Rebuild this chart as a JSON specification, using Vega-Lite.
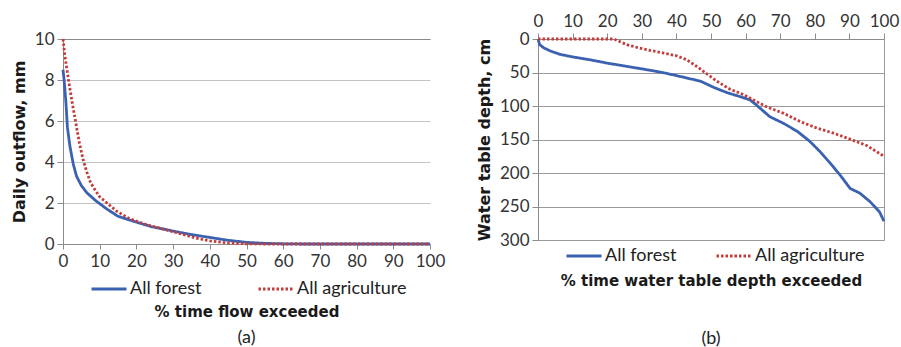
{
  "$schema": "https://vega.github.io/schema/vega-lite/v6.json",
  "background": "white",
  "padding": {"left": 11, "top": 11, "right": 10, "bottom": 0},
  "bounds": "flush",
  "spacing": 108,
  "datasets": {
    "flow": [
      {"s": "All forest", "x": 0, "y": 8.5},
      {"s": "All forest", "x": 0.3, "y": 8.0},
      {"s": "All forest", "x": 0.8, "y": 6.9},
      {"s": "All forest", "x": 1.2, "y": 5.7},
      {"s": "All forest", "x": 1.9, "y": 4.75},
      {"s": "All forest", "x": 2.8, "y": 3.9},
      {"s": "All forest", "x": 3.7, "y": 3.3},
      {"s": "All forest", "x": 5, "y": 2.85},
      {"s": "All forest", "x": 6.5, "y": 2.5},
      {"s": "All forest", "x": 9, "y": 2.1},
      {"s": "All forest", "x": 12, "y": 1.7},
      {"s": "All forest", "x": 15, "y": 1.35},
      {"s": "All forest", "x": 19, "y": 1.12},
      {"s": "All forest", "x": 24, "y": 0.85},
      {"s": "All forest", "x": 30, "y": 0.63},
      {"s": "All forest", "x": 35, "y": 0.46},
      {"s": "All forest", "x": 40, "y": 0.32},
      {"s": "All forest", "x": 45, "y": 0.18},
      {"s": "All forest", "x": 50, "y": 0.08},
      {"s": "All forest", "x": 55, "y": 0.03},
      {"s": "All forest", "x": 60, "y": 0.01},
      {"s": "All forest", "x": 65, "y": 0},
      {"s": "All forest", "x": 100, "y": 0},
      {"s": "All agriculture", "x": 0, "y": 10},
      {"s": "All agriculture", "x": 0.5, "y": 9.2},
      {"s": "All agriculture", "x": 1, "y": 8.6},
      {"s": "All agriculture", "x": 1.5, "y": 8.0},
      {"s": "All agriculture", "x": 2.5, "y": 6.9},
      {"s": "All agriculture", "x": 3.5, "y": 5.9},
      {"s": "All agriculture", "x": 4.5, "y": 4.9},
      {"s": "All agriculture", "x": 5.5, "y": 4.1},
      {"s": "All agriculture", "x": 6.5, "y": 3.5},
      {"s": "All agriculture", "x": 7.5, "y": 3.0},
      {"s": "All agriculture", "x": 8.5, "y": 2.7},
      {"s": "All agriculture", "x": 10, "y": 2.3},
      {"s": "All agriculture", "x": 12, "y": 2.0},
      {"s": "All agriculture", "x": 14.6, "y": 1.6},
      {"s": "All agriculture", "x": 18, "y": 1.25},
      {"s": "All agriculture", "x": 21, "y": 1.05},
      {"s": "All agriculture", "x": 24, "y": 0.88},
      {"s": "All agriculture", "x": 28, "y": 0.7},
      {"s": "All agriculture", "x": 32, "y": 0.5},
      {"s": "All agriculture", "x": 36, "y": 0.3},
      {"s": "All agriculture", "x": 40, "y": 0.15},
      {"s": "All agriculture", "x": 45, "y": 0.05},
      {"s": "All agriculture", "x": 50, "y": 0.01},
      {"s": "All agriculture", "x": 55, "y": 0},
      {"s": "All agriculture", "x": 100, "y": 0}
    ],
    "wt": [
      {"s": "All forest", "x": 0, "y": 0},
      {"s": "All forest", "x": 0.5, "y": 8.5},
      {"s": "All forest", "x": 1.6, "y": 13},
      {"s": "All forest", "x": 3.6, "y": 18},
      {"s": "All forest", "x": 6.4, "y": 23},
      {"s": "All forest", "x": 10.3, "y": 27},
      {"s": "All forest", "x": 15, "y": 31},
      {"s": "All forest", "x": 20, "y": 36},
      {"s": "All forest", "x": 24.7, "y": 40},
      {"s": "All forest", "x": 30.5, "y": 45},
      {"s": "All forest", "x": 36, "y": 50},
      {"s": "All forest", "x": 42, "y": 57},
      {"s": "All forest", "x": 47, "y": 63},
      {"s": "All forest", "x": 50.7, "y": 72},
      {"s": "All forest", "x": 54.6, "y": 80},
      {"s": "All forest", "x": 58.4, "y": 86},
      {"s": "All forest", "x": 61.3, "y": 91},
      {"s": "All forest", "x": 63, "y": 98},
      {"s": "All forest", "x": 67, "y": 116},
      {"s": "All forest", "x": 71, "y": 126},
      {"s": "All forest", "x": 75, "y": 138},
      {"s": "All forest", "x": 78.6, "y": 153},
      {"s": "All forest", "x": 81.5, "y": 168},
      {"s": "All forest", "x": 84.4, "y": 185},
      {"s": "All forest", "x": 87.3, "y": 203},
      {"s": "All forest", "x": 90.2, "y": 223},
      {"s": "All forest", "x": 93, "y": 230},
      {"s": "All forest", "x": 96, "y": 243},
      {"s": "All forest", "x": 98.7, "y": 258},
      {"s": "All forest", "x": 100, "y": 272},
      {"s": "All agriculture", "x": 0, "y": 0},
      {"s": "All agriculture", "x": 22, "y": 0},
      {"s": "All agriculture", "x": 22.8, "y": 2},
      {"s": "All agriculture", "x": 25.7, "y": 8.5},
      {"s": "All agriculture", "x": 28.6, "y": 12.5},
      {"s": "All agriculture", "x": 32.4, "y": 17},
      {"s": "All agriculture", "x": 36.3, "y": 21},
      {"s": "All agriculture", "x": 40, "y": 25},
      {"s": "All agriculture", "x": 43, "y": 31},
      {"s": "All agriculture", "x": 45.9, "y": 41},
      {"s": "All agriculture", "x": 48.8, "y": 52},
      {"s": "All agriculture", "x": 51.7, "y": 63},
      {"s": "All agriculture", "x": 55.5, "y": 75},
      {"s": "All agriculture", "x": 59.4, "y": 83},
      {"s": "All agriculture", "x": 62.3, "y": 91},
      {"s": "All agriculture", "x": 66, "y": 101},
      {"s": "All agriculture", "x": 71, "y": 111},
      {"s": "All agriculture", "x": 75.7, "y": 123},
      {"s": "All agriculture", "x": 80.6, "y": 133},
      {"s": "All agriculture", "x": 85.4, "y": 140.5},
      {"s": "All agriculture", "x": 90.2, "y": 149.5},
      {"s": "All agriculture", "x": 95, "y": 159},
      {"s": "All agriculture", "x": 100, "y": 175}
    ]
  },
  "hconcat": [
    {
      "width": 367,
      "height": 205,
      "data": {"name": "flow"},
      "title": {"text": "(a)", "orient": "bottom", "anchor": "middle", "font": "Lato", "fontSize": 18, "fontWeight": "normal", "color": "#222222", "offset": 10},
      "mark": {"type": "line", "strokeWidth": 2.8, "strokeCap": "butt"},
      "encoding": {
        "x": {"field": "x", "type": "quantitative", "scale": {"domain": [0, 100], "nice": false},
          "axis": {"title": "% time flow exceeded", "values": [0, 10, 20, 30, 40, 50, 60, 70, 80, 90, 100], "grid": false, "tickSize": 5, "labelPadding": 4, "titlePadding": 35, "labelFlush": false}},
        "y": {"field": "y", "type": "quantitative", "scale": {"domain": [0, 10], "nice": false},
          "axis": {"title": "Daily outflow, mm", "values": [0, 2, 4, 6, 8, 10], "grid": true, "gridColor": {"condition": {"test": "datum.value === 10", "value": "#8a8a8a"}, "value": "#c4c4c4"}, "tickSize": 6, "labelPadding": 3, "titlePadding": 7, "titleFontSize": 16}},
        "color": {"field": "s", "type": "nominal", "scale": {"domain": ["All forest", "All agriculture"], "range": ["#3b62b0", "#c43c3c"]},
          "legend": {"title": null, "orient": "none", "legendX": 27, "legendY": 231, "direction": "horizontal", "columnPadding": 50, "symbolType": "stroke", "symbolSize": 1225, "symbolStrokeWidth": 3, "labelOffset": 2, "labelFont": "Lato", "labelFontSize": 18, "labelColor": "#222222"}},
        "strokeDash": {"field": "s", "type": "nominal", "scale": {"domain": ["All forest", "All agriculture"], "range": [[1, 0], [2.5, 2]]},
          "legend": {"title": null, "orient": "none", "legendX": 27, "legendY": 231, "direction": "horizontal", "columnPadding": 50, "symbolType": "stroke", "symbolSize": 1225, "symbolStrokeWidth": 3, "labelOffset": 2, "labelFont": "Lato", "labelFontSize": 18, "labelColor": "#222222"}}
      }
    },
    {
      "width": 346,
      "height": 201,
      "data": {"name": "wt"},
      "view": {"stroke": "#9a9a9a"},
      "title": {"text": "(b)", "orient": "bottom", "anchor": "middle", "font": "Lato", "fontSize": 18, "fontWeight": "normal", "color": "#222222", "offset": 42},
      "layer": [
        {
          "mark": {"type": "line", "strokeWidth": 2.8, "strokeCap": "butt"},
          "encoding": {
            "x": {"field": "x", "type": "quantitative", "scale": {"domain": [0, 100], "nice": false},
              "axis": {"orient": "top", "title": null, "values": [0, 10, 20, 30, 40, 50, 60, 70, 80, 90, 100], "grid": false, "tickSize": 6, "labelPadding": 3, "labelFlush": false}},
            "y": {"field": "y", "type": "quantitative", "scale": {"domain": [0, 300], "nice": false, "reverse": true},
              "axis": {"title": "Water table depth, cm", "values": [0, 50, 100, 150, 200, 250, 300], "grid": true, "gridColor": "#9a9a9a", "tickSize": 6, "labelPadding": 3, "titlePadding": 7, "titleFontSize": 16}},
            "color": {"field": "s", "type": "nominal", "scale": {"domain": ["All forest", "All agriculture"], "range": ["#3b62b0", "#c43c3c"]},
              "legend": {"title": null, "orient": "none", "legendX": 27, "legendY": 198, "direction": "horizontal", "columnPadding": 33, "symbolType": "stroke", "symbolSize": 1225, "symbolStrokeWidth": 3, "labelOffset": 2, "labelFont": "Lato", "labelFontSize": 18, "labelColor": "#222222"}},
            "strokeDash": {"field": "s", "type": "nominal", "scale": {"domain": ["All forest", "All agriculture"], "range": [[1, 0], [2.5, 2]]},
              "legend": {"title": null, "orient": "none", "legendX": 27, "legendY": 198, "direction": "horizontal", "columnPadding": 33, "symbolType": "stroke", "symbolSize": 1225, "symbolStrokeWidth": 3, "labelOffset": 2, "labelFont": "Lato", "labelFontSize": 18, "labelColor": "#222222"}}
          }
        },
        {
          "mark": {"type": "line", "opacity": 0},
          "encoding": {
            "x": {"field": "x", "type": "quantitative", "scale": {"domain": [0, 100], "nice": false},
              "axis": {"orient": "bottom", "title": "% time water table depth exceeded", "labels": false, "ticks": false, "domain": false, "grid": false, "titlePadding": 33}},
            "y": {"field": "y", "type": "quantitative", "scale": {"domain": [0, 300], "nice": false, "reverse": true},
              "axis": {"title": "Water table depth, cm", "values": [0, 50, 100, 150, 200, 250, 300], "grid": true, "gridColor": "#9a9a9a", "tickSize": 6, "labelPadding": 3, "titlePadding": 7, "titleFontSize": 16}},
            "detail": {"field": "s"}
          }
        }
      ],
      "resolve": {"axis": {"x": "independent"}}
    }
  ],
  "resolve": {"scale": {"color": "independent", "strokeDash": "independent", "x": "independent", "y": "independent"}, "legend": {"color": "independent", "strokeDash": "independent"}},
  "config": {
    "view": {"stroke": null},
    "axis": {
      "domainColor": "#8c8c8c",
      "tickColor": "#8c8c8c",
      "labelFont": "Lato",
      "labelFontSize": 17,
      "labelColor": "#333333",
      "titleFont": "DejaVu Sans",
      "titleFontWeight": "bold",
      "titleFontSize": 15,
      "titleColor": "#1a1a1a"
    }
  }
}
